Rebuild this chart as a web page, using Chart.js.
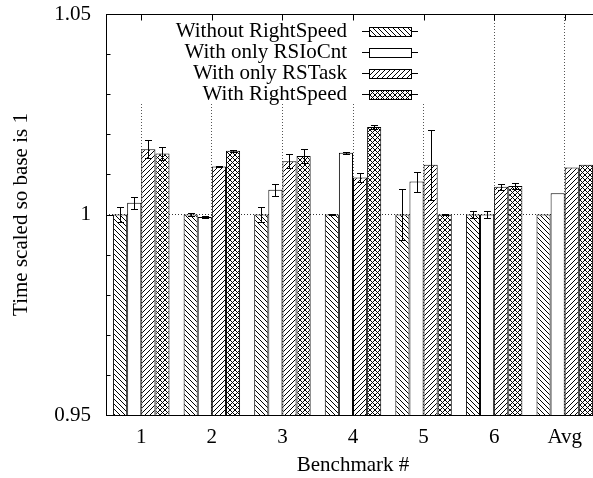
<!DOCTYPE html>
<html>
<head>
<meta charset="utf-8">
<script src="https://cdn.jsdelivr.net/npm/chart.js@4"></script>
<style>
html, body { margin: 0; padding: 0; overflow: hidden; background: #fff; }
#wrap { width: 600px; height: 478px; }
</style>
</head>
<body>
<div id="wrap"><canvas id="benchChart" width="600" height="478"></canvas></div>
<script>
// Benchmarks and series
const benchmarks = ['1', '2', '3', '4', '5', '6', 'Avg'];
const seriesNames = ['Without RightSpeed', 'With only RSIoCnt', 'With only RSTask', 'With RightSpeed'];

// Run time, scaled so the baseline is 1
const withoutRS = [1.000, 1.000, 1.000, 1.000, 1.000, 1.000, 1.000];
const onlyIoCnt = [1.0029, 0.9994, 1.0062, 1.0154, 1.0082, 1.000, 1.0053];
const onlyTask = [1.0163, 1.0120, 1.0133, 1.0092, 1.0124, 1.0069, 1.0117];
const withRS = [1.0152, 1.0159, 1.0146, 1.0218, 1.000, 1.0071, 1.0124];

// Error bar half-heights
const errWithoutRS = [0.0019, 0.0003, 0.0018, 0.0002, 0.0064, 0.0008, 0];
const errOnlyIoCnt = [0.0015, 0.0003, 0.0015, 0.0002, 0.0025, 0.0008, 0];
const errOnlyTask = [0.0022, 0.0002, 0.0017, 0.0012, 0.0087, 0.0008, 0];
const errWithRS = [0.0017, 0.0002, 0.0017, 0.0006, 0.0002, 0.0008, 0];

// Labelled y ticks (the others are minor ticks every 0.01)
const yTicks = [0.95, 1, 1.05];

const seriesValues = [withoutRS, onlyIoCnt, onlyTask, withRS];
const seriesErrors = [errWithoutRS, errOnlyIoCnt, errOnlyTask, errWithRS];

const FONT = '"Liberation Serif", "Times New Roman", serif';

const canvas = document.getElementById('benchChart');
const ctx = canvas.getContext('2d');

// Hatch fills: 'back' = \\\, 'fwd' = ///, 'cross' = both
function hatch(kind) {
    const s = 5;
    const tile = document.createElement('canvas');
    tile.width = s; tile.height = s;
    const g = tile.getContext('2d');
    g.fillStyle = '#fff';
    g.fillRect(0, 0, s, s);
    g.strokeStyle = '#000';
    g.lineWidth = 1;
    g.beginPath();
    for (let k = -1; k <= 1; k++) {
        if (kind === 'back' || kind === 'cross') { g.moveTo(k * s, 0); g.lineTo(k * s + s, s); }
        if (kind === 'fwd' || kind === 'cross') { g.moveTo(k * s, s); g.lineTo(k * s + s, 0); }
    }
    g.stroke();
    return ctx.createPattern(tile, 'repeat');
}

const fills = [hatch('back'), '#fff', hatch('fwd'), hatch('cross')];

const near = (a, b) => Math.abs(a - b) < 1e-9;

// Error bars with small caps
const errorBars = {
    id: 'errorBars',
    afterDatasetsDraw(chart) {
        const c = chart.ctx;
        const y = chart.scales.y;
        c.save();
        c.strokeStyle = '#000';
        c.lineWidth = 1;
        chart.data.datasets.forEach((ds, i) => {
            chart.getDatasetMeta(i).data.forEach((bar, j) => {
                const e = seriesErrors[i][j];
                if (!e) return;
                const x = Math.round(bar.x) + 0.5;
                const hi = Math.round(y.getPixelForValue(ds.data[j] + e)) + 0.5;
                const lo = Math.round(y.getPixelForValue(ds.data[j] - e)) + 0.5;
                c.beginPath();
                c.moveTo(x, hi); c.lineTo(x, lo);
                c.moveTo(x - 3.5, hi); c.lineTo(x + 3.5, hi);
                c.moveTo(x - 3.5, lo); c.lineTo(x + 3.5, lo);
                c.stroke();
            });
        });
        c.restore();
    }
};

// Frame, inward ticks and the key
const frameAndKey = {
    id: 'frameAndKey',
    afterDraw(chart) {
        const c = chart.ctx;
        const a = chart.chartArea;
        const L = Math.round(a.left) + 0.5, R = Math.round(a.right) - 0.5;
        const T = Math.round(a.top) + 0.5, B = Math.round(a.bottom) + 0.5;
        c.save();

        // key with opaque background
        c.fillStyle = '#fff';
        c.fillRect(130, T + 0.5, 300, 88);
        const rows = [31, 52, 73, 94];
        c.font = '21px ' + FONT;
        c.textAlign = 'right';
        c.textBaseline = 'middle';
        chart.data.datasets.forEach((ds, i) => {
            const ry = rows[i] + 0.5;
            c.fillStyle = '#000';
            c.fillText(ds.label, 347, rows[i]);
            c.strokeStyle = '#000';
            c.lineWidth = 1;
            c.beginPath();
            c.moveTo(362, ry); c.lineTo(418, ry);
            c.stroke();
            c.fillStyle = ds.backgroundColor;
            c.fillRect(369.5, ry - 4, 42, 9);
            c.strokeRect(369.5, ry - 4, 42, 9);
        });

        // plot border
        c.strokeStyle = '#000';
        c.lineWidth = 1;
        c.strokeRect(L, T, R - L, B - T);

        // y ticks pointing inward
        const y = chart.scales.y;
        c.beginPath();
        y.ticks.forEach(t => {
            const py = Math.round(y.getPixelForValue(t.value)) + 0.5;
            const len = yTicks.some(v => near(v, t.value)) ? 7 : 4;
            c.moveTo(L, py); c.lineTo(L + len, py);
        });
        // x ticks on the top border
        const x = chart.scales.x;
        benchmarks.forEach((b, i) => {
            const px = Math.round(x.getPixelForValue(i)) + 0.5;
            c.moveTo(px, T); c.lineTo(px, T + 6);
        });
        c.stroke();
        c.restore();
    }
};

Chart.defaults.font.family = FONT;
Chart.defaults.font.size = 21;
Chart.defaults.color = '#000';

const benchChart = new Chart(ctx, {
    type: 'bar',
    data: {
        labels: benchmarks,
        datasets: seriesNames.map((name, i) => ({
            label: name,
            data: seriesValues[i],
            backgroundColor: fills[i],
            borderColor: '#000',
            borderWidth: 1,
            borderSkipped: 'start',
            categoryPercentage: 0.8,
            barPercentage: 1.0
        }))
    },
    options: {
        responsive: false,
        animation: false,
        layout: { padding: { top: 14, right: 0, bottom: 0, left: 0 } },
        plugins: {
            legend: { display: false },
            tooltip: { enabled: false }
        },
        scales: {
            x: {
                afterFit: s => { s.height = 63; s.paddingLeft = 0; s.paddingRight = 0; },
                grid: { offset: false, color: '#555', drawTicks: false },
                border: { display: false, dash: [1, 2] },
                ticks: { padding: 10 },
                title: { display: true, text: 'Benchmark #', padding: { top: 0, bottom: 0 } }
            },
            y: {
                min: 0.95,
                max: 1.05,
                afterFit: s => { s.width = 106; s.paddingTop = 0; s.paddingBottom = 0; },
                grid: {
                    drawTicks: false,
                    color: c => near(c.tick.value, 1) ? '#333' : 'rgba(0,0,0,0)'
                },
                border: { display: false, dash: [1, 2] },
                ticks: {
                    stepSize: 0.01,
                    autoSkip: false,
                    padding: 15,
                    callback: v => yTicks.some(t => near(t, v)) ? String(+v.toFixed(2)) : ''
                },
                title: { display: true, text: 'Time scaled so base is 1', padding: { top: 9, bottom: 0 } }
            }
        }
    },
    plugins: [errorBars, frameAndKey]
});
</script>
</body>
</html>
